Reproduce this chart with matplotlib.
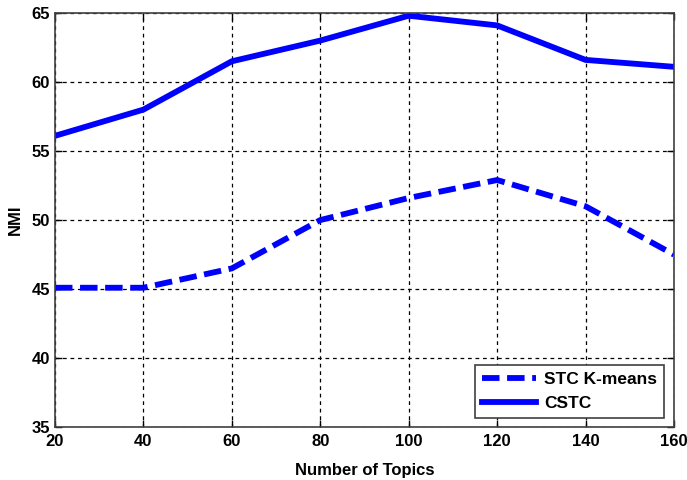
import matplotlib.pyplot as plt

plt.rcParams['font.family'] = ['Liberation Sans', 'DejaVu Sans']
plt.rcParams['font.weight'] = 'bold'

topics = [20, 40, 60, 80, 100, 120, 140, 160]
stc_kmeans = [45.1, 45.1, 46.5, 50.0, 51.6, 52.9, 51.0, 47.5]
cstc = [56.1, 58.0, 61.5, 63.0, 64.8, 64.1, 61.6, 61.1]

fig = plt.figure(figsize=(6.87, 4.8), dpi=100)
ax = fig.add_axes([0.080, 0.110, 0.901, 0.863])

ax.plot(topics, stc_kmeans, color='#0000ff', linestyle=(0, (3, 1.3)), linewidth=4.2, label='STC K-means')
ax.plot(topics, cstc, color='#0000ff', linestyle='-', linewidth=4.2, label='CSTC')

ax.set_xlim(20, 160)
ax.set_ylim(35, 65)
ax.set_xticks(topics)
ax.set_yticks([35, 40, 45, 50, 55, 60, 65])
ax.grid(True, color='black', linestyle=(0, (3, 3)), linewidth=0.9)
ax.tick_params(direction='in', length=5, labelsize=12, width=1, top=True, right=True)
ax.tick_params(axis='x', pad=5)
for lab in ax.get_xticklabels() + ax.get_yticklabels():
    lab.set_fontweight('bold')
for sp in ax.spines.values():
    sp.set_linewidth(1.2)
    sp.set_color('#404040')

ax.set_xlabel('Number of Topics', fontsize=12, fontweight='bold', labelpad=10)
ax.set_ylabel('NMI', fontsize=12, fontweight='bold', labelpad=6)

leg = ax.legend(loc='lower right', fancybox=False, framealpha=1,
                edgecolor='#404040', handlelength=3.1, handletextpad=0.5,
                borderaxespad=0.55, prop={'weight': 'bold', 'size': 12.5})
leg.get_frame().set_linewidth(1.2)

fig.savefig('out.png', dpi=100)
